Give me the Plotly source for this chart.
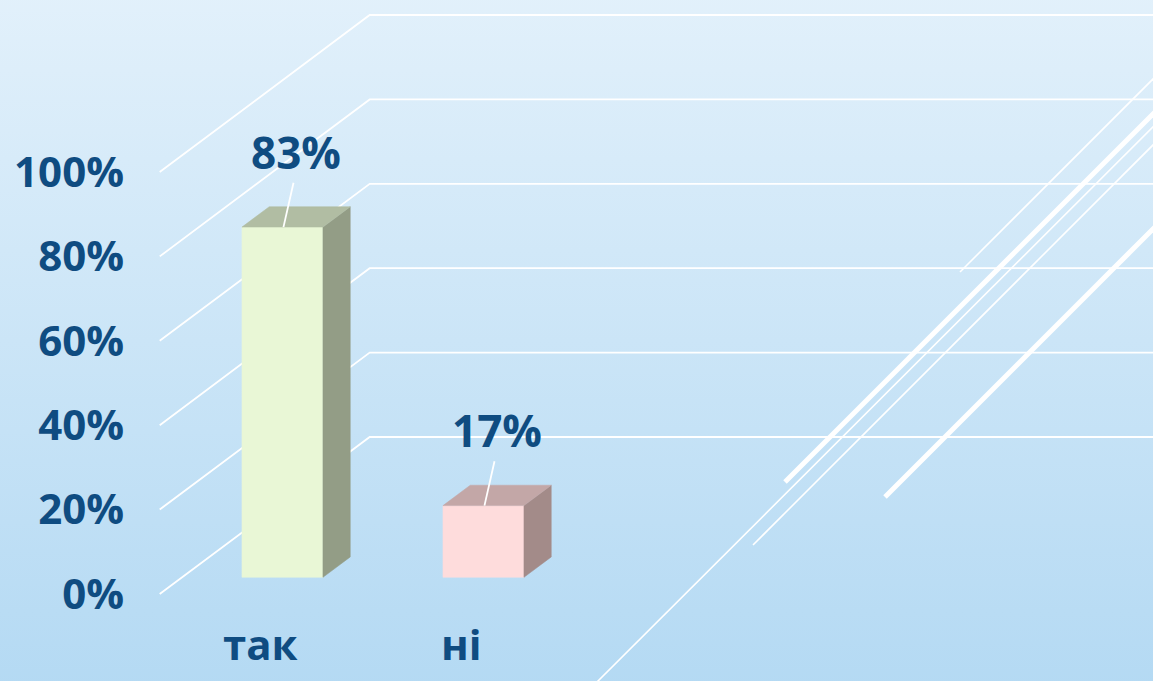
import plotly.graph_objects as go

# ---- data ----
categories = ["так", "ні"]
values = [83, 17]
value_labels = ["83%", "17%"]
tick_values = [0, 20, 40, 60, 80, 100]
tick_labels = ["0%", "20%", "40%", "60%", "80%", "100%"]

front_colors = ["#e9f7d6", "#fedcdc"]
top_colors = ["#b1bda3", "#c3a7a7"]
side_colors = ["#939d86", "#a38b89"]

TEXT = "#0f4c81"
FONT = "Open Sans"
W, H = 1153, 681

# ---- projection parameters (depth effect) ----
DX = 1.0448      # x shift (category units) for full depth
DV = 37.2        # y shift (percent units) for full depth
T0, T1 = 0.106, 0.236   # bar depth extent
HALF = 0.2015    # half bar width (category units)
XR = [-1.2945, 4.4418]
YR = [-20.62, 140.76]
GRID_X0 = -0.5


def proj(x, v, t):
    return x + t * DX, v + t * DV


fig = go.Figure()

# background gradient
fig.add_trace(go.Scatter(
    x=[XR[0] - 1, XR[1] + 1, XR[1] + 1, XR[0] - 1, XR[0] - 1],
    y=[YR[0] - 5, YR[0] - 5, YR[1] + 5, YR[1] + 5, YR[0] - 5],
    fill="toself", mode="lines", line=dict(width=0),
    fillgradient=dict(type="vertical",
                      colorscale=[[0, "#b3d9f3"], [1, "#e3f1fb"]]),
    hoverinfo="skip", showlegend=False))

# gridlines (left wall diagonal + back wall horizontal)
for v in tick_values:
    x0, y0 = proj(GRID_X0, v, 0)
    x1, y1 = proj(GRID_X0, v, 1)
    fig.add_trace(go.Scatter(
        x=[x0, x1, XR[1] + 2], y=[y0, y1, y1], mode="lines",
        line=dict(color="white", width=1.8),
        hoverinfo="skip", showlegend=False))

# bars
for i, (c, v) in enumerate(zip(categories, values)):
    xl, xr = i - HALF, i + HALF
    # front
    pts = [proj(xl, 0, T0), proj(xr, 0, T0), proj(xr, v, T0), proj(xl, v, T0), proj(xl, 0, T0)]
    fig.add_trace(go.Scatter(x=[p[0] for p in pts], y=[p[1] for p in pts],
                             fill="toself", fillcolor=front_colors[i], mode="lines",
                             line=dict(color=front_colors[i], width=0.5),
                             hoverinfo="skip", showlegend=False))
    # side
    pts = [proj(xr, 0, T0), proj(xr, 0, T1), proj(xr, v, T1), proj(xr, v, T0), proj(xr, 0, T0)]
    fig.add_trace(go.Scatter(x=[p[0] for p in pts], y=[p[1] for p in pts],
                             fill="toself", fillcolor=side_colors[i], mode="lines",
                             line=dict(color=side_colors[i], width=0.5),
                             hoverinfo="skip", showlegend=False))
    # top
    pts = [proj(xl, v, T0), proj(xr, v, T0), proj(xr, v, T1), proj(xl, v, T1), proj(xl, v, T0)]
    fig.add_trace(go.Scatter(x=[p[0] for p in pts], y=[p[1] for p in pts],
                             fill="toself", fillcolor=top_colors[i], mode="lines",
                             line=dict(color=top_colors[i], width=0.5),
                             hoverinfo="skip", showlegend=False))
    # leader line + label
    bx, by = proj(i + 0.005, v, T0)
    tx, ty = bx + 0.05, by + 10.5
    fig.add_trace(go.Scatter(x=[bx, tx], y=[by, ty], mode="lines",
                             line=dict(color="white", width=1.8),
                             hoverinfo="skip", showlegend=False))
    fig.add_annotation(x=tx + 0.01, y=ty, text=value_labels[i], showarrow=False,
                       xanchor="center", yanchor="bottom", yshift=-1,
                       font=dict(family=FONT, size=44, color=TEXT, weight="bold"))

# decorative diagonal lines (paper coordinates, pixel based)
deco = [
    ((960, 272), (1180, 52), 1.6),
    ((785, 482), (1180, 87), 5.0),
    ((588, 691), (1180, 100), 1.6),
    ((753, 545), (1180, 118), 1.6),
    ((885, 497), (1180, 202), 5.0),
]
for (p0, p1, w) in deco:
    fig.add_shape(type="line", xref="paper", yref="paper",
                  x0=p0[0] / W, y0=1 - p0[1] / H, x1=p1[0] / W, y1=1 - p1[1] / H,
                  line=dict(color="white", width=w), layer="above")

fig.update_layout(
    width=W, height=H, margin=dict(l=0, r=0, t=0, b=0, pad=0),
    paper_bgcolor="#cfe7f8", plot_bgcolor="#cfe7f8", showlegend=False,
    xaxis=dict(range=XR, showgrid=False, zeroline=False, showline=False,
               tickvals=list(range(len(categories))), ticktext=categories,
               anchor="free", position=0.094, ticks="", automargin=False,
               tickfont=dict(family=FONT, size=42, color=TEXT, weight="bold")),
    yaxis=dict(range=YR, showgrid=False, zeroline=False, showline=False,
               tickvals=tick_values, ticktext=tick_labels,
               anchor="free", position=124 / W, ticks="", automargin=False,
               tickfont=dict(family=FONT, size=42, color=TEXT, weight="bold")),
)

fig.write_html("out.html")
